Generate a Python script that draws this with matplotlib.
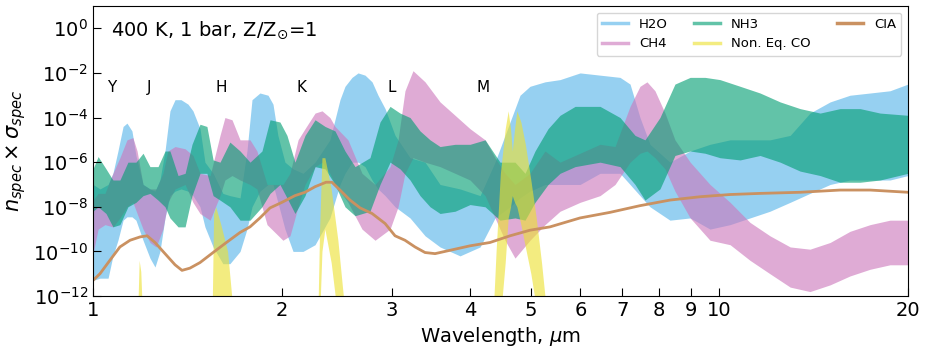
import numpy as np
import matplotlib
matplotlib.use("Agg")
import matplotlib.pyplot as plt
from matplotlib.lines import Line2D
from matplotlib.ticker import NullLocator

# log10 of the opacity envelopes (upper / lower)
h2o_wl = [1.0, 1.026, 1.057, 1.076, 1.096, 1.117, 1.133, 1.154, 1.171, 1.202, 1.233, 1.256,
          1.279, 1.303, 1.327, 1.352, 1.382, 1.418, 1.444, 1.482, 1.509, 1.555, 1.612, 1.654,
          1.717, 1.761, 1.794, 1.847, 1.903, 1.938, 1.973, 2.025, 2.086, 2.164, 2.262, 2.389,
          2.479, 2.525, 2.591, 2.649, 2.718, 2.789, 2.851, 2.926, 3.035, 3.207, 3.389, 3.581,
          3.854, 4.149, 4.383, 4.632, 4.805, 4.984, 5.267, 5.566, 5.992, 6.448, 6.94, 7.2,
          7.468, 7.747, 8.337, 8.98, 9.66, 10.4, 11.19, 12.04, 12.97, 13.95, 15.02, 16.16,
          17.4, 18.72, 20.0]
h2o_hi = [-7.0, -7.2, -7.0, -6.5, -5.5, -4.4, -4.25, -4.6, -5.7, -7.0, -7.2, -7.3,
          -6.8, -5.5, -3.7, -3.2, -3.2, -3.4, -3.7, -4.5, -6.0, -6.5, -7.4, -7.5,
          -7.6, -5.5, -3.2, -2.9, -3.0, -3.4, -4.8, -6.0, -6.3, -6.5, -6.0, -5.0,
          -3.2, -2.6, -2.2, -2.0, -2.1, -2.4, -3.0, -3.6, -4.8, -5.8, -6.0, -7.0,
          -7.2, -7.5, -6.0, -4.2, -3.0, -2.6, -2.4, -2.3, -2.0, -2.1, -2.2, -2.5,
          -4.0, -5.2, -6.0, -5.5, -5.2, -5.0, -5.0, -5.0, -4.8, -3.8, -3.3, -3.0,
          -2.9, -2.8, -2.5]
h2o_lo = [-11.3, -11.2, -11.2, -10.2, -9.5, -8.6, -8.45, -8.45, -8.6, -9.5, -10.3, -10.7,
          -10.0, -8.5, -7.5, -7.3, -7.2, -7.3, -7.5, -8.0, -8.9, -9.8, -10.55, -10.55,
          -10.0, -9.0, -8.0, -7.3, -7.0, -7.0, -7.8, -9.0, -10.0, -10.0, -9.7, -8.5,
          -7.0, -6.5, -6.0, -6.0, -6.2, -6.8, -7.2, -7.5, -8.0, -8.5, -9.3, -9.8,
          -10.2, -9.8, -8.5, -8.0, -7.6, -7.3, -7.0, -7.0, -7.0, -6.5, -6.5, -7.0,
          -7.5, -8.0, -8.6, -8.5, -9.0, -8.8, -8.5, -8.2, -7.8, -7.4, -7.0, -6.8,
          -6.8, -6.8, -6.6]

ch4_wl = [1.0, 1.019, 1.045, 1.076, 1.104, 1.133, 1.158, 1.176, 1.202, 1.233, 1.261, 1.293,
          1.317, 1.352, 1.403, 1.444, 1.482, 1.538, 1.595, 1.624, 1.667, 1.717, 1.781, 1.827,
          1.896, 2.010, 2.063, 2.125, 2.18, 2.262, 2.321, 2.389, 2.434, 2.553, 2.688, 2.82,
          2.98, 3.069, 3.148, 3.242, 3.389, 3.581, 3.784, 3.998, 4.226, 4.383, 4.547, 4.717,
          4.984, 5.267, 5.566, 5.992, 6.448, 6.813, 7.2, 7.468, 7.662, 7.89, 8.187, 8.492,
          8.98, 9.66, 10.4, 11.19, 12.04, 12.97, 13.95, 15.02, 16.16, 17.4, 18.72, 20.0]
ch4_hi = [-7.7, -7.4, -7.4, -6.5, -5.8, -5.0, -4.9, -5.5, -7.0, -7.2, -7.2, -6.5,
          -5.5, -5.3, -5.4, -5.7, -6.5, -6.6, -4.8, -4.0, -4.1, -5.0, -5.0, -5.5,
          -7.0, -7.0, -6.5, -5.0, -4.5, -3.8, -3.7, -4.0, -4.4, -5.0, -6.5, -7.0,
          -6.2, -5.0, -2.8, -1.9, -2.4, -3.3, -3.9, -4.5, -5.0, -5.8, -6.5, -7.0,
          -6.5, -5.5, -6.0, -5.6, -5.2, -5.3, -3.5, -2.6, -2.4, -2.8, -3.8, -5.0,
          -6.0, -7.0, -7.8, -8.7, -9.3, -9.8, -9.9, -9.6, -9.1, -8.8, -8.6, -8.6]
ch4_lo = [-10.1, -9.0, -8.8, -8.9, -8.5, -8.0, -7.8, -8.3, -9.0, -9.6, -9.8, -9.0,
          -7.8, -7.2, -7.0, -7.8, -8.3, -8.6, -7.5, -6.8, -6.6, -6.8, -7.0, -7.2,
          -8.8, -9.5, -9.3, -8.0, -7.0, -6.2, -6.0, -6.5, -7.0, -7.8, -9.0, -9.5,
          -9.0, -8.0, -6.5, -5.8, -6.0, -6.2, -6.5, -6.8, -7.5, -8.5, -9.5, -10.3,
          -9.5, -8.8, -8.2, -7.8, -7.5, -7.0, -6.0, -5.6, -5.5, -5.8, -6.3, -7.3,
          -8.5, -9.5, -9.7, -10.4, -11.0, -11.6, -11.8, -11.5, -11.1, -10.8, -10.6, -10.6]

nh3_wl = [1.0, 1.019, 1.049, 1.076, 1.104, 1.137, 1.171, 1.202, 1.233, 1.270, 1.303, 1.327,
          1.367, 1.403, 1.439, 1.482, 1.520, 1.555, 1.595, 1.654, 1.717, 1.781, 1.861, 1.917,
          1.988, 2.040, 2.101, 2.18, 2.262, 2.347, 2.434, 2.525, 2.62, 2.768, 2.872, 2.98,
          3.091, 3.207, 3.327, 3.452, 3.581, 3.784, 3.998, 4.226, 4.464, 4.717, 4.894, 5.077,
          5.326, 5.566, 5.883, 6.448, 6.94, 7.333, 7.606, 8.036, 8.492, 8.98, 9.484, 10.02,
          10.79, 11.61, 12.5, 13.45, 14.48, 15.58, 16.77, 18.05, 20.0]
nh3_hi = [-6.3, -5.75, -6.3, -6.8, -6.8, -6.0, -6.0, -5.6, -6.2, -6.2, -5.5, -5.5,
          -6.6, -6.5, -5.2, -4.3, -4.4, -5.9, -6.0, -5.1, -5.5, -6.0, -5.5, -4.1,
          -4.2, -4.8, -6.0, -4.8, -4.1, -4.4, -4.6, -5.5, -6.2, -5.8, -4.2, -3.5,
          -3.8, -4.0, -4.6, -5.0, -5.3, -5.2, -5.2, -5.0, -6.0, -6.0, -6.5, -5.5,
          -4.5, -3.9, -3.5, -3.5, -4.0, -4.8, -5.0, -4.0, -2.5, -2.2, -2.2, -2.3,
          -2.6, -2.9, -3.3, -3.6, -3.8, -3.6, -3.6, -3.8, -3.9]
nh3_lo = [-8.2, -8.0, -8.3, -8.9, -8.8, -8.0, -7.8, -7.5, -7.4, -7.7, -8.0, -8.5,
          -8.9, -8.9, -7.5, -6.5, -6.5, -7.5, -7.7, -8.0, -8.6, -8.6, -8.0, -7.4,
          -7.0, -7.6, -8.3, -7.5, -6.2, -6.3, -7.0, -8.0, -8.4, -8.2, -7.0, -6.0,
          -6.3, -6.8, -7.5, -8.0, -8.3, -8.2, -7.9, -8.0, -8.6, -8.5, -8.6, -7.8,
          -7.0, -6.5, -6.2, -6.0, -6.2, -7.0, -7.7, -7.2, -5.7, -5.5, -5.6, -5.8,
          -5.9, -5.7, -6.0, -6.4, -6.6, -6.9, -6.9, -6.8, -6.5]

co_wl = [1.178, 1.185, 1.192, 1.2, 1.549, 1.558, 1.57, 1.6, 1.64, 1.665, 1.68,
         2.285, 2.30, 2.32, 2.345, 2.4, 2.46, 2.53,
         4.35, 4.40, 4.47, 4.55, 4.60, 4.64, 4.67, 4.71, 4.75, 4.82, 4.9, 5.0, 5.1, 5.2, 5.31]
co_hi = [-13, -10.4, -10.9, -13, -13, -8.3, -8.0, -8.8, -10.0, -12.0, -13,
         -13, -9.0, -5.8, -5.8, -7.2, -9.5, -13,
         -13, -10.0, -6.5, -4.5, -3.7, -4.5, -5.5, -4.5, -3.7, -4.2, -5.2, -6.8, -8.5, -10.5, -13]
co_lo = [-13, -13, -13, -13, -13, -13, -13, -13, -13, -13, -13,
         -13, -13, -10.0, -9.0, -10.5, -13, -13,
         -13, -13, -13, -10.5, -8.5, -8.0, -7.5, -7.8, -8.0, -8.8, -9.8, -11.0, -12.5, -13, -13]

cia_wl = [1.0, 1.026, 1.064, 1.104, 1.146, 1.189, 1.22, 1.256, 1.303, 1.352, 1.387, 1.428,
          1.482, 1.555, 1.624, 1.717, 1.781, 1.847, 1.917, 2.003, 2.101, 2.18, 2.262, 2.355,
          2.407, 2.479, 2.572, 2.669, 2.789, 2.926, 3.035, 3.148, 3.266, 3.389, 3.516, 3.715,
          3.998, 4.303, 4.632, 4.984, 5.365, 5.992, 6.689, 7.468, 8.337, 9.312, 10.4, 11.61,
          13.45, 15.58, 17.4, 20.0]
cia_log = [-11.3, -11.0, -10.4, -9.8, -9.5, -9.35, -9.3, -9.6, -10.1, -10.6, -10.85, -10.75,
           -10.5, -10.05, -9.65, -9.15, -8.9, -8.5, -8.05, -7.8, -7.5, -7.35, -7.1, -6.9,
           -6.9, -7.25, -7.7, -8.05, -8.3, -8.75, -9.3, -9.5, -9.8, -10.05, -10.1, -9.95,
           -9.75, -9.6, -9.3, -9.05, -8.9, -8.5, -8.25, -7.95, -7.7, -7.55, -7.45, -7.4,
           -7.35, -7.25, -7.25, -7.35]

band_names = ['Y', 'J', 'H', 'K', 'L', 'M']
band_wl = [1.072, 1.228, 1.601, 2.155, 3.0, 4.19]

x_ticks = [1, 2, 3, 4, 5, 6, 7, 8, 9, 10, 20]

colors = {'H2O': '#56b4e9', 'CH4': '#cc78bc', 'NH3': '#029e73',
          'CO': '#ece133', 'CIA': '#ca9161'}
alpha = 0.62


def main():
    fig = plt.figure(figsize=(9.29, 3.52), dpi=100)
    ax = fig.add_axes([0.1001, 0.159, 0.8773, 0.824])

    spectra = [(h2o_wl, h2o_lo, h2o_hi, colors['H2O']),
               (ch4_wl, ch4_lo, ch4_hi, colors['CH4']),
               (nh3_wl, nh3_lo, nh3_hi, colors['NH3']),
               (co_wl, co_lo, co_hi, colors['CO'])]
    for wl, lo, hi, c in spectra:
        ax.fill_between(wl, 10.0 ** np.array(lo), 10.0 ** np.array(hi),
                        color=c, alpha=alpha, lw=0)

    ax.plot(cia_wl, 10.0 ** np.array(cia_log), color=colors['CIA'], lw=2)

    for name, wl in zip(band_names, band_wl):
        ax.text(wl, 2.2e-3, name, ha='center', va='center', fontsize=11)

    ax.text(0.022, 0.917, r'400 K, 1 bar, Z/Z$_{\odot}$=1', transform=ax.transAxes,
            ha='left', va='center', fontsize=14)

    ax.set_xscale('log')
    ax.set_yscale('log')
    ax.set_xlim(1, 20)
    ax.set_ylim(1e-12, 1e1)
    ax.set_yticks([10.0 ** k for k in range(-12, 1, 2)])
    ax.set_xticks(x_ticks)
    ax.set_xticklabels([str(t) for t in x_ticks])
    ax.xaxis.set_minor_locator(NullLocator())
    ax.yaxis.set_minor_locator(NullLocator())
    ax.tick_params(direction='in', length=6, labelsize=14)

    ax.set_xlabel(r'Wavelength, $\mu$m', fontsize=14)
    ax.set_ylabel(r'$n_{spec}\times\sigma_{spec}$', fontsize=15)

    handles = [Line2D([], [], color=colors['H2O'], alpha=alpha, lw=2.5),
               Line2D([], [], color=colors['CH4'], alpha=alpha, lw=2.5),
               Line2D([], [], color=colors['NH3'], alpha=alpha, lw=2.5),
               Line2D([], [], color=colors['CO'], alpha=alpha, lw=2.5),
               Line2D([], [], color=colors['CIA'], lw=2.5)]
    labels = ['H2O', 'CH4', 'NH3', 'Non. Eq. CO', 'CIA']
    ax.legend(handles, labels, loc='upper right', ncol=3, fontsize=9.5)

    fig.savefig('out.png', dpi=100)


if __name__ == '__main__':
    main()
